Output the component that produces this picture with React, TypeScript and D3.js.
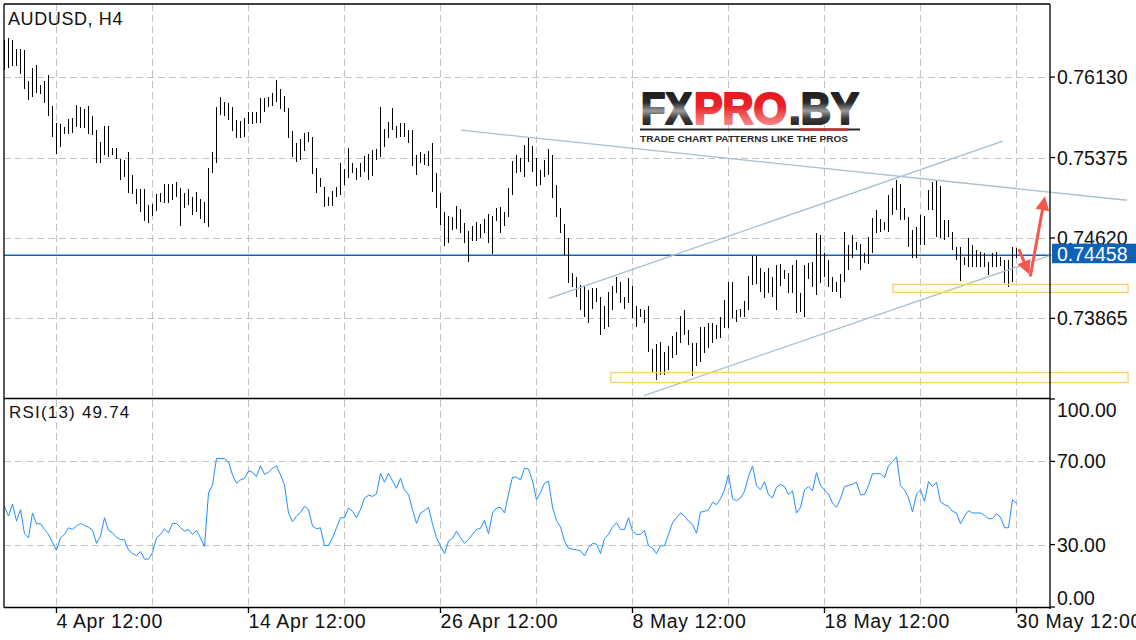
import React from "react";
import * as d3 from "d3";

// H4 bars, index 0..253 (bar 0 sits under the left border)
const highs = [
  0.76478, 0.76497, 0.76478, 0.76393, 0.76393, 0.76384, 0.76093, 0.76215, 0.76243, 0.76055,
  0.76093, 0.76149, 0.75858, 0.75698, 0.75688, 0.7566, 0.75735, 0.75745, 0.75867, 0.75848,
  0.75829, 0.75858, 0.75764, 0.75632, 0.75519, 0.7567, 0.7567, 0.75463, 0.75463, 0.75359,
  0.7535, 0.75425, 0.75209, 0.75077, 0.75077, 0.75077, 0.74927, 0.74936, 0.7503, 0.7504,
  0.75124, 0.75124, 0.75124, 0.75143, 0.75087, 0.7504, 0.75077, 0.75002, 0.75049, 0.74983,
  0.74955, 0.75275, 0.75425, 0.75848, 0.75942, 0.75895, 0.75886, 0.75848, 0.75726, 0.75717,
  0.75745, 0.75801, 0.75801, 0.75801, 0.75933, 0.75933, 0.75942, 0.7598, 0.76102, 0.76017,
  0.75952, 0.75839, 0.75623, 0.7551, 0.75547, 0.75604, 0.75613, 0.75566, 0.75275, 0.75181,
  0.75096, 0.75002, 0.75059, 0.75096, 0.75322, 0.75265, 0.75463, 0.75322, 0.75275, 0.75322,
  0.75388, 0.75406, 0.75444, 0.75453, 0.75848, 0.75641, 0.75707, 0.75839, 0.7567, 0.75698,
  0.75698, 0.75632, 0.75632, 0.75397, 0.75425, 0.75406, 0.75435, 0.7551, 0.75228, 0.7504,
  0.74861, 0.74824, 0.74814, 0.74918, 0.74889, 0.74758, 0.74683, 0.7473, 0.74767, 0.74748,
  0.74795, 0.74842, 0.74824, 0.74899, 0.74908, 0.74861, 0.75087, 0.75341, 0.75397, 0.75369,
  0.75491, 0.75557, 0.75482, 0.75369, 0.75256, 0.7535, 0.75453, 0.75397, 0.75115, 0.74899,
  0.74748, 0.74617, 0.74288, 0.7425, 0.74175, 0.74166, 0.74128, 0.74147, 0.74147, 0.74062,
  0.73978, 0.74109, 0.74166, 0.7425, 0.74203, 0.74062, 0.74241, 0.74166, 0.73978, 0.73949,
  0.7394, 0.73978, 0.73573, 0.7362, 0.73639, 0.73545, 0.73602, 0.73696, 0.73733, 0.73884,
  0.7394, 0.73752, 0.7363, 0.7363, 0.7378, 0.7378, 0.73818, 0.73818, 0.73799, 0.73874,
  0.74034, 0.74203, 0.74203, 0.7394, 0.73949, 0.74025, 0.7426, 0.74448, 0.74448, 0.74335,
  0.74297, 0.74335, 0.7425, 0.74363, 0.74372, 0.74316, 0.74288, 0.74363, 0.7441, 0.741,
  0.74363, 0.74382, 0.74391, 0.74664, 0.74645, 0.74476, 0.7441, 0.7425, 0.74203, 0.74278,
  0.74673, 0.74551, 0.74645, 0.74579, 0.7456, 0.74476, 0.74626, 0.74805, 0.7488, 0.74795,
  0.74767, 0.75021, 0.75087, 0.75162, 0.75124, 0.74899, 0.74814, 0.74692, 0.7472, 0.74833,
  0.74824, 0.75068, 0.75143, 0.75153, 0.75106, 0.74786, 0.74786, 0.74673, 0.74532, 0.74532,
  0.74438, 0.74617, 0.74551, 0.74504, 0.74485, 0.74476, 0.74391, 0.74476, 0.74485, 0.74438,
  0.7441, 0.7441, 0.74532, 0.74523,
];

const lows = [
  0.76196, 0.76215, 0.76234, 0.76234, 0.76158, 0.76017, 0.75914, 0.75942, 0.7598, 0.7597,
  0.75886, 0.75764, 0.75566, 0.75406, 0.75472, 0.75594, 0.75594, 0.75604, 0.7566, 0.75651,
  0.75651, 0.75594, 0.75585, 0.75322, 0.75322, 0.75397, 0.75378, 0.75397, 0.75359, 0.75162,
  0.7519, 0.7504, 0.7503, 0.74936, 0.74861, 0.74777, 0.74758, 0.74824, 0.74871, 0.74955,
  0.74946, 0.74946, 0.74974, 0.75002, 0.7473, 0.74899, 0.74927, 0.74833, 0.74861, 0.74795,
  0.74758, 0.7472, 0.75228, 0.75322, 0.75773, 0.75764, 0.75726, 0.75623, 0.75557, 0.75557,
  0.75566, 0.75688, 0.75688, 0.75698, 0.75698, 0.75801, 0.75848, 0.75858, 0.75895, 0.75829,
  0.75801, 0.75557, 0.75378, 0.75331, 0.7535, 0.75435, 0.75519, 0.75218, 0.7504, 0.75096,
  0.74908, 0.74918, 0.74918, 0.75002, 0.75021, 0.75115, 0.75181, 0.75228, 0.75162, 0.7519,
  0.75237, 0.75162, 0.752, 0.7535, 0.75378, 0.75472, 0.75557, 0.75632, 0.75557, 0.75566,
  0.75566, 0.7551, 0.75294, 0.75209, 0.75322, 0.75303, 0.75294, 0.75049, 0.74899, 0.74739,
  0.74542, 0.7457, 0.74692, 0.74701, 0.74664, 0.7457, 0.74391, 0.74589, 0.74589, 0.74617,
  0.74664, 0.7457, 0.74466, 0.74777, 0.74664, 0.7473, 0.74814, 0.75021, 0.75228, 0.75237,
  0.7519, 0.75331, 0.75237, 0.75106, 0.75115, 0.7519, 0.75209, 0.74993, 0.74814, 0.74664,
  0.74457, 0.74194, 0.74156, 0.74062, 0.7394, 0.73874, 0.73818, 0.73949, 0.74015, 0.73705,
  0.73761, 0.7378, 0.7394, 0.741, 0.74006, 0.73949, 0.74006, 0.73865, 0.7378, 0.73874,
  0.73818, 0.73545, 0.73348, 0.73291, 0.73329, 0.73329, 0.73385, 0.73489, 0.73517, 0.7363,
  0.73705, 0.73611, 0.7332, 0.73414, 0.73451, 0.73536, 0.73583, 0.7363, 0.73667, 0.73677,
  0.73771, 0.73771, 0.73865, 0.73827, 0.73874, 0.73874, 0.7394, 0.74175, 0.74184, 0.74109,
  0.74053, 0.741, 0.74062, 0.7394, 0.74166, 0.74231, 0.741, 0.741, 0.73912, 0.73921,
  0.73874, 0.74231, 0.74156, 0.74081, 0.74194, 0.7425, 0.74156, 0.74109, 0.74109, 0.74053,
  0.74203, 0.74316, 0.74429, 0.74504, 0.74316, 0.74382, 0.74372, 0.74476, 0.74664, 0.74673,
  0.74692, 0.74673, 0.74833, 0.7488, 0.74786, 0.74786, 0.74532, 0.74429, 0.74429, 0.74551,
  0.74551, 0.7488, 0.7488, 0.74626, 0.74617, 0.74598, 0.74626, 0.74504, 0.7441, 0.74213,
  0.74363, 0.74344, 0.74344, 0.74344, 0.74344, 0.74344, 0.74269, 0.74344, 0.74344, 0.74354,
  0.74194, 0.74156, 0.74203, 0.74429,
];

const rsi = [
  48.4, 43.7, 49.5, 41.3, 46.8, 35.2, 33.3, 45.2, 40.0, 40.0,
  37.3, 34.9, 31.0, 27.3, 33.3, 34.9, 38.1, 37.3, 38.9, 40.2,
  39.2, 38.4, 37.0, 30.6, 34.1, 42.9, 36.8, 35.7, 33.5, 32.5,
  32.2, 27.3, 25.7, 24.8, 26.7, 23.0, 23.0, 26.2, 33.3, 34.9,
  37.6, 35.7, 40.2, 40.2, 38.1, 36.5, 37.3, 34.9, 36.8, 33.3,
  29.0, 54.8, 58.7, 71.4, 71.4, 71.4, 69.8, 63.5, 59.5, 61.1,
  61.9, 65.4, 64.8, 62.7, 67.9, 63.8, 64.8, 66.7, 67.9, 63.5,
  58.7, 45.2, 41.0, 43.7, 45.5, 48.4, 46.8, 38.9, 37.6, 38.1,
  29.4, 29.7, 33.3, 38.1, 42.9, 42.9, 47.6, 46.0, 42.9, 46.8,
  52.4, 53.7, 53.2, 54.3, 64.3, 60.0, 64.3, 60.6, 57.1, 61.9,
  56.3, 54.0, 46.8, 40.2, 45.2, 46.3, 47.9, 40.0, 33.3, 29.4,
  25.7, 31.7, 33.0, 36.5, 33.3, 30.6, 32.5, 34.9, 37.3, 37.8,
  41.6, 35.2, 45.2, 47.6, 47.9, 45.2, 54.3, 62.4, 62.4, 61.1,
  66.7, 66.3, 60.6, 51.6, 55.0, 59.5, 60.5, 48.0, 41.5, 38.5,
  31.7, 28.3, 27.8, 27.5, 27.0, 24.6, 28.6, 30.6, 30.2, 25.7,
  33.0, 34.9, 38.4, 40.5, 37.3, 37.3, 42.9, 36.5, 34.9, 34.9,
  36.8, 29.4, 28.3, 25.7, 29.4, 29.4, 34.9, 40.5, 42.9, 45.2,
  43.7, 41.3, 39.7, 35.4, 45.7, 45.9, 46.8, 50.3, 49.2, 52.1,
  56.3, 63.8, 52.1, 51.1, 52.4, 55.6, 62.7, 67.8, 58.4, 56.3,
  60.3, 54.0, 52.4, 57.6, 59.0, 57.9, 54.0, 55.9, 45.2, 47.9,
  56.3, 57.9, 55.9, 64.6, 58.4, 56.3, 54.3, 50.0, 47.9, 52.1,
  57.9, 58.4, 59.0, 60.0, 54.0, 54.0, 58.4, 64.1, 64.1, 64.1,
  62.2, 67.9, 69.8, 72.2, 58.4, 56.3, 52.4, 45.7, 54.3, 56.3,
  50.8, 60.3, 57.9, 60.0, 50.5, 49.2, 48.4, 46.0, 45.2, 40.0,
  43.7, 46.3, 45.2, 45.2, 45.2, 44.1, 42.5, 42.5, 44.8, 43.2,
  38.1, 38.1, 51.6, 49.74,
];

const symbolTitle = "AUDUSD, H4";
const rsiTitle = "RSI(13)";
const lastPrice = 0.74458;
const priceTicks = [0.7613, 0.75375, 0.7462, 0.73865];
const rsiTicks = [100, 70, 30, 0];
const gridBars = [13, 37, 61, 85, 109, 133, 157, 181, 205, 229, 253];
const labelBars = [13, 61, 109, 157, 205, 253];
const timeLabels = ["4 Apr 12:00", "14 Apr 12:00", "26 Apr 12:00", "8 May 12:00", "18 May 12:00", "30 May 12:00"];

// drawn annotations, as [bar index, price]
const trendLines = [
  [[114.1, 0.75632], [280.6, 0.74974]],
  [[136.1, 0.74053], [249.6, 0.75529]],
  [[159.9, 0.73141], [273.1, 0.74607]],
];
const zones = [
  { from: 222.1, to: 280.9, top: 0.74184, bottom: 0.74109 },
  { from: 151.6, to: 280.9, top: 0.73357, bottom: 0.73263 },
];
const arrows = [
  [[253.7, 0.74504], [256.2, 0.74276]],
  [[256.5, 0.74269], [260.1, 0.75012]],
];

const FONT = "'Liberation Sans', Arial, Helvetica, sans-serif";
const W = 1136;
const H = 640;
const left = 4;
const right = 1050;
const mainTop = 4;
const mainBottom = 398.5;
const rsiTop = 399;
const rsiBottom = 607;

export default function App() {
  const x = d3.scaleLinear().domain([0, 253]).range([4.5, 1016.5]);
  const y = d3.scaleLinear().domain([0.73113, 0.76816]).range([mainBottom, mainTop]);
  const yr = d3.scaleLinear().domain([0, 100]).range([rsiBottom, rsiTop]);

  const rsiLine = d3
    .line<number>()
    .x((_, i) => x(i))
    .y((d) => yr(d));

  const seg = d3
    .line<number[]>()
    .x((d) => x(d[0]))
    .y((d) => y(d[1]));

  const arrowShapes = arrows.map(([a, b]) => {
    const x1 = x(a[0]), y1 = y(a[1]), x2 = x(b[0]), y2 = y(b[1]);
    const len = Math.hypot(x2 - x1, y2 - y1);
    const ux = (x2 - x1) / len, uy = (y2 - y1) / len;
    const hl = 14, hw = 7;
    const bx = x2 - ux * hl, by = y2 - uy * hl;
    const head = [
      [x2, y2],
      [bx - uy * hw, by + ux * hw],
      [bx + uy * hw, by - ux * hw],
    ];
    return { x1, y1, bx, by, head: head.map((p) => p.join(",")).join(" ") };
  });

  const grid = "#c4c4c4";

  return (
    <svg
      width={W}
      height={H}
      style={{ position: "absolute", left: 0, top: 0, background: "#fff" }}
      fontFamily={FONT}
    >
      <defs>
        <linearGradient id="darkGrad" x1="0" y1="0" x2="0" y2="1">
          <stop offset="0%" stopColor="#141414" />
          <stop offset="38%" stopColor="#2a2a2a" />
          <stop offset="55%" stopColor="#9a9a9a" />
          <stop offset="70%" stopColor="#3a3a3a" />
          <stop offset="100%" stopColor="#101010" />
        </linearGradient>
        <linearGradient id="redGrad" x1="0" y1="0" x2="0" y2="1">
          <stop offset="0%" stopColor="#e3141b" />
          <stop offset="45%" stopColor="#ea2128" />
          <stop offset="70%" stopColor="#f26a6a" />
          <stop offset="100%" stopColor="#f6a3a3" />
        </linearGradient>
      </defs>

      {/* grid */}
      {gridBars.map((b) => (
        <line
          key={"vg" + b}
          x1={x(b)}
          x2={x(b)}
          y1={mainTop}
          y2={rsiBottom}
          stroke={grid}
          strokeWidth={1}
          strokeDasharray="7,4"
        />
      ))}
      {priceTicks.map((p) => (
        <line
          key={"hg" + p}
          x1={left}
          x2={right}
          y1={Math.round(y(p)) + 0.5}
          y2={Math.round(y(p)) + 0.5}
          stroke={grid}
          strokeWidth={1}
          strokeDasharray="7,4"
        />
      ))}
      {[70, 30].map((v) => (
        <line
          key={"rg" + v}
          x1={left}
          x2={right}
          y1={Math.round(yr(v)) + 0.5}
          y2={Math.round(yr(v)) + 0.5}
          stroke={grid}
          strokeWidth={1}
          strokeDasharray="7,4"
        />
      ))}

      {/* logo */}
      <g fontSize={44} fontWeight={900} strokeWidth={2.2} strokeLinejoin="round">
        <text x={641} y={124} fill="url(#darkGrad)" stroke="url(#darkGrad)" textLength={51} lengthAdjust="spacingAndGlyphs">
          FX
        </text>
        <text x={694} y={124} fill="url(#redGrad)" stroke="url(#redGrad)" textLength={93} lengthAdjust="spacingAndGlyphs">
          PRO
        </text>
        <text x={789} y={124} fill="url(#darkGrad)" stroke="url(#darkGrad)" textLength={70} lengthAdjust="spacingAndGlyphs">
          .BY
        </text>
      </g>
      <line x1={640} x2={860} y1={129.5} y2={129.5} stroke="#2b2b2b" strokeWidth={2} />
      <line x1={800} x2={848} y1={129.5} y2={129.5} stroke="#e3141b" strokeWidth={2} />
      <text x={640} y={142} fontSize={9.5} fontWeight={700} fill="#2b2b2b" textLength={208} lengthAdjust="spacingAndGlyphs">
        TRADE CHART PATTERNS LIKE THE PROS
      </text>

      {/* last price line */}
      <line x1={left} x2={right} y1={y(lastPrice)} y2={y(lastPrice)} stroke="#0f63bd" strokeWidth={1.5} />

      {/* bars */}
      <g stroke="#000" strokeWidth={1} shapeRendering="crispEdges">
        {highs.map((h, i) => (
          <line key={i} x1={x(i)} x2={x(i)} y1={y(h)} y2={y(lows[i])} />
        ))}
      </g>

      {/* trend lines */}
      {trendLines.map((t, i) => (
        <path key={"tl" + i} d={seg(t) || ""} fill="none" stroke="#a8bfce" strokeWidth={1.3} />
      ))}

      {/* zones */}
      {zones.map((z, i) => (
        <rect
          key={"z" + i}
          x={x(z.from)}
          y={y(z.top)}
          width={x(z.to) - x(z.from)}
          height={y(z.bottom) - y(z.top)}
          fill="rgba(255,236,170,0.15)"
          stroke="#f5d173"
          strokeWidth={1.3}
        />
      ))}

      {/* arrows */}
      {arrowShapes.map((a, i) => (
        <g key={"ar" + i}>
          <line x1={a.x1} y1={a.y1} x2={a.bx} y2={a.by} stroke="#f4574d" strokeWidth={3} strokeLinecap="round" />
          <polygon points={a.head} fill="#f4574d" />
        </g>
      ))}

      {/* RSI */}
      <path d={rsiLine(rsi) || ""} fill="none" stroke="#1e8fff" strokeWidth={1} />

      {/* frame */}
      <g stroke="#000" strokeWidth={1.3}>
        <line x1={left} x2={right} y1={mainTop} y2={mainTop} />
        <line x1={left} x2={left} y1={mainTop} y2={rsiBottom + 0.5} />
        <line x1={left} x2={right} y1={mainBottom} y2={mainBottom} />
        <line x1={left} x2={right} y1={rsiBottom + 0.5} y2={rsiBottom + 0.5} />
        <line x1={right} x2={right} y1={mainTop} y2={rsiBottom + 2} />
        {priceTicks.map((p) => (
          <line key={"pt" + p} x1={right} x2={right + 5} y1={y(p)} y2={y(p)} />
        ))}
        {rsiTicks.map((v) => (
          <line key={"rt" + v} x1={right} x2={right + 5} y1={yr(v)} y2={yr(v)} />
        ))}
        {labelBars.map((b) => (
          <line key={"xt" + b} x1={x(b)} x2={x(b)} y1={rsiBottom} y2={rsiBottom + 6} />
        ))}
      </g>

      {/* titles */}
      <text x={8} y={25} fontSize={18} fill="#111" letterSpacing={0.6}>
        {symbolTitle}
      </text>
      <text x={9} y={417.5} fontSize={17} fill="#111" letterSpacing={1.2}>
        {rsiTitle} {rsi[rsi.length - 1].toFixed(2)}
      </text>

      {/* price axis labels */}
      {priceTicks.map((p) => (
        <text key={"pl" + p} x={1057} y={y(p) + 7} fontSize={19.5} fill="#111">
          {p.toFixed(5)}
        </text>
      ))}
      <rect x={1052} y={y(lastPrice) - 11.5} width={W - 1052} height={19.5} fill="#0d62b5" />
      <text x={1057} y={y(lastPrice) + 6} fontSize={19.5} fill="#fff">
        {lastPrice.toFixed(5)}
      </text>

      {/* rsi axis labels */}
      {rsiTicks.map((v) => {
        const yy = v === 100 ? yr(v) + 18 : v === 0 ? yr(v) - 2 : yr(v) + 7;
        return (
          <text key={"rl" + v} x={1057} y={yy} fontSize={19.5} fill="#111">
            {v.toFixed(2)}
          </text>
        );
      })}

      {/* time labels */}
      {labelBars.map((b, i) => (
        <text key={"tl" + b} x={x(b)} y={628} fontSize={19.5} fill="#111" letterSpacing={0.6}>
          {timeLabels[i]}
        </text>
      ))}
    </svg>
  );
}
